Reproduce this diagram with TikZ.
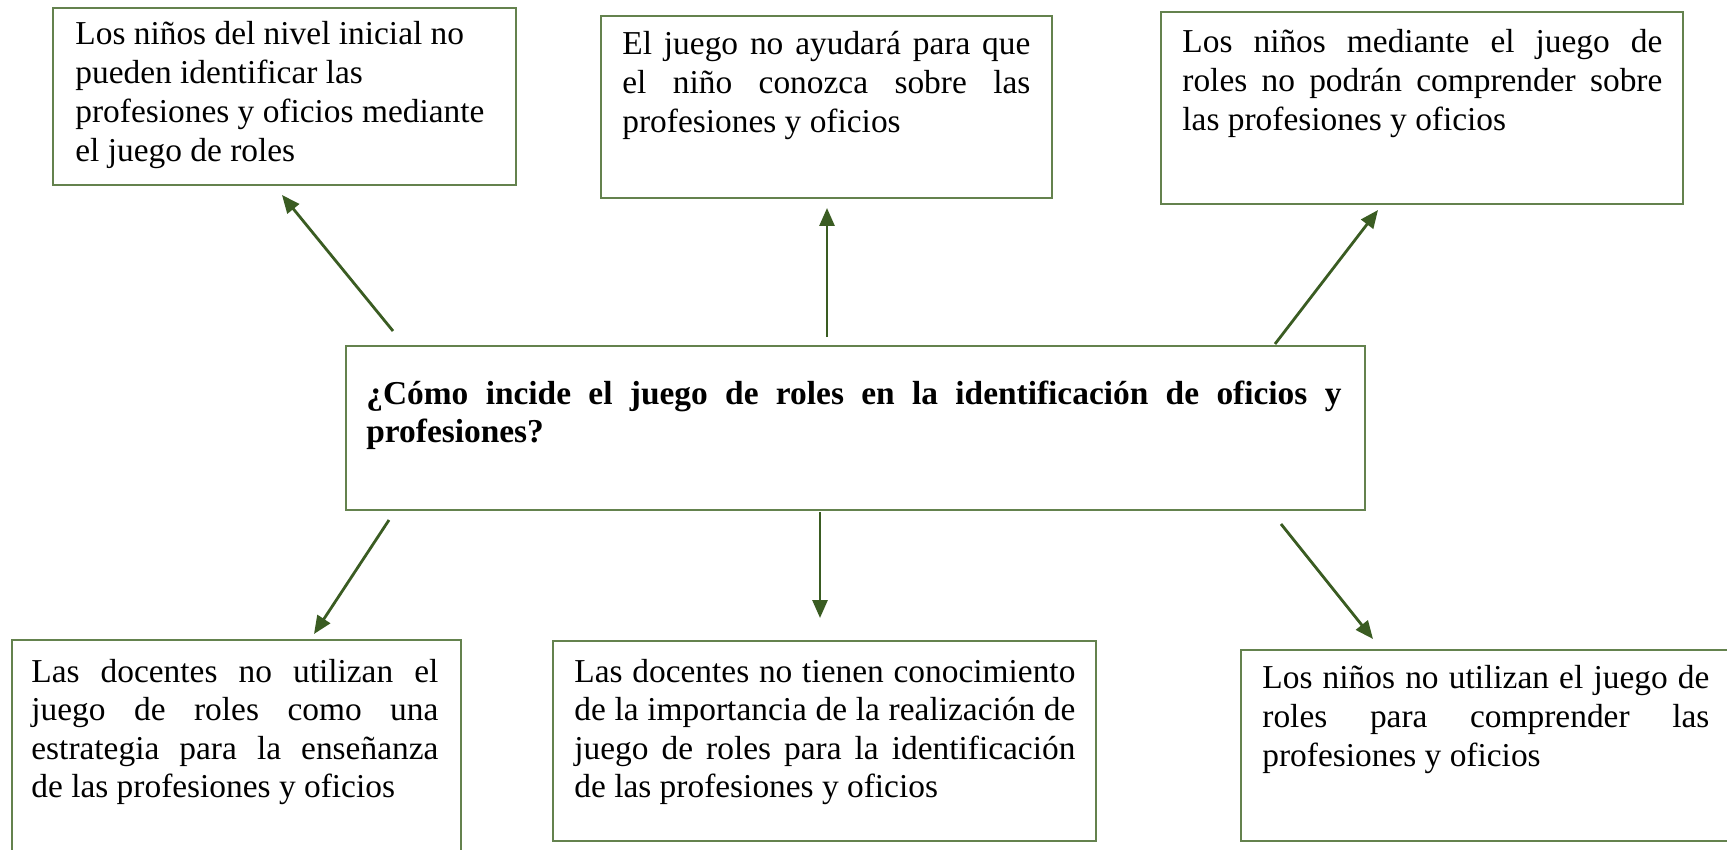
\documentclass[tikz,border=0pt]{standalone}
\usepackage{fontspec}
\setmainfont{Liberation Serif}
\usetikzlibrary{arrows.meta}
\definecolor{boxgreen}{RGB}{100,130,78}
\definecolor{arrgreen}{RGB}{58,92,34}
\newcommand\nsp{\spaceskip=0pt\relax\xspaceskip=0pt\relax}
\newcommand\jl[1]{\makebox[\hsize][s]{\nsp #1}\\}
\tikzset{
  box/.style={draw=boxgreen, line width=1pt, rectangle, inner sep=0pt, anchor=north west},
  txt/.style={anchor=north west, inner sep=0pt, align=left, font=\fontsize{16.7}{19.6}\selectfont},
  qtxt/.style={txt, font=\fontsize{16.7}{19.2}\selectfont\bfseries},
  arr/.style={draw=arrgreen, line width=1.4pt, -{Triangle[length=9pt,width=7.5pt]}}
}
\begin{document}
\begin{tikzpicture}[x=0.5pt,y=-0.5pt]
\useasboundingbox (0,0) rectangle (1727,850);
\clip (0,0) rectangle (1727,850);
% boxes
\node[box, minimum width=231.5pt, minimum height=88.5pt] (b1) at (52,7) {};
\node[box, minimum width=225.5pt, minimum height=91pt] (b2) at (600,15) {};
\node[box, minimum width=261pt, minimum height=96pt] (b3) at (1160,11) {};
\node[box, minimum width=509.5pt, minimum height=82pt] (q) at (345,345) {};
\node[box, minimum width=224.5pt, minimum height=120pt] (b4) at (11,639) {};
\node[box, minimum width=271.5pt, minimum height=100pt] (b5) at (552,640) {};
\node[box, minimum width=270pt, minimum height=95.5pt] (b6) at (1240,649) {};
% texts
\node[txt, text width=220pt] (b1t) at (75,16.5) {\nsp\strut Los niños del nivel inicial no\\pueden identificar las\\profesiones y oficios mediante\\el juego de roles};
\node[txt, text width=204pt] (b2t) at (622,26.5) {\nsp\strut\jl{El juego no ayudará para que}\jl{el niño conozca sobre las}profesiones y oficios};
\node[txt, text width=240pt] (b3t) at (1182,24.5) {\nsp\strut\jl{Los niños mediante el juego de}\jl{roles no podrán comprender sobre}las profesiones y oficios};
\node[qtxt, text width=487.5pt] (qt) at (366,377) {\nsp\strut\jl{¿Cómo incide el juego de roles en la identificación de oficios y}profesiones?};
\node[txt, text width=203.5pt, font=\fontsize{16.7}{19.1}\selectfont] (b4t) at (31,655.5) {\nsp\strut\jl{Las docentes no utilizan el}\jl{juego de roles como una}\jl{estrategia para la enseñanza}de las profesiones y oficios};
\node[txt, text width=250.5pt, font=\fontsize{16.7}{19.1}\selectfont] (b5t) at (574,655.5) {\nsp\strut\jl{Las docentes no tienen conocimiento}\jl{de la importancia de la realización de}\jl{juego de roles para la identificación}de las profesiones y oficios};
\node[txt, text width=223.5pt] (b6t) at (1262,660.5) {\nsp\strut\jl{Los niños no utilizan el juego de}\jl{roles para comprender las}profesiones y oficios};
% arrow endpoints
\coordinate (a1s) at (393,331);
\coordinate (a1e) at (282,195);
\coordinate (a2s) at (827,337);
\coordinate (a2e) at (827,208);
\coordinate (a3s) at (1275,344);
\coordinate (a3e) at (1378,210);
\coordinate (a4s) at (389,520);
\coordinate (a4e) at (314,634);
\coordinate (a5s) at (820,512);
\coordinate (a5e) at (820,618);
\coordinate (a6s) at (1281,524);
\coordinate (a6e) at (1373,639);
\draw[arr] (a1s) -- (a1e);
\draw[arr] (a2s) -- (a2e);
\draw[arr] (a3s) -- (a3e);
\draw[arr] (a4s) -- (a4e);
\draw[arr] (a5s) -- (a5e);
\draw[arr] (a6s) -- (a6e);
\end{tikzpicture}
\end{document}
